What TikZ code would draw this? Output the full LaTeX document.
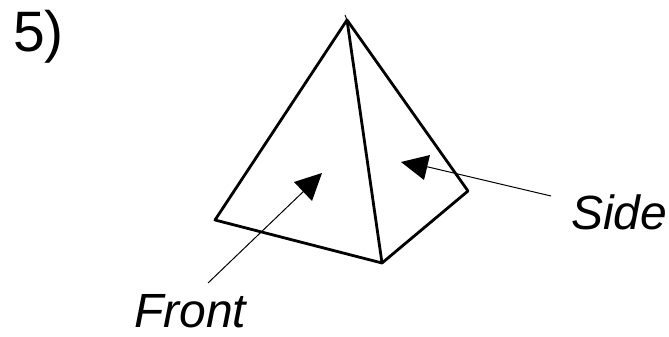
\documentclass[tikz,border=0pt]{standalone}
\usepackage{fontspec}
\setmainfont{Liberation Sans}
\begin{document}
\begin{tikzpicture}[x=1pt,y=-1pt,
  edge/.style={draw=black,line width=2.8pt,line join=round},
  leader/.style={draw=black,line width=1pt},
  head/.style={fill=black,draw=none},
  lab/.style={font=\fontsize{48}{50}\selectfont\itshape,inner sep=0pt}]
\useasboundingbox (0,0) rectangle (669,337);
\coordinate (A) at (347,20);
\coordinate (B) at (215,220);
\coordinate (C) at (382,263);
\coordinate (D) at (468,191);
\draw[edge] (A) -- (B) -- (C) -- (D) -- cycle;
\draw[edge] (A) -- (C);
\draw[leader] (345,15) -- (A);
\node[font=\fontsize{57}{60}\selectfont,inner sep=0pt,anchor=west] (n) at (13,37) {5)};
\node[lab,anchor=west] (side) at (571,212) {Side};
\node[lab,anchor=west] (front) at (134,311) {Front};
\coordinate (s) at (551,196);
\coordinate (st) at (424,166);
\coordinate (f) at (208,283);
\coordinate (ft) at (305,190);
\draw[leader] (s) -- (st);
\draw[leader] (f) -- (ft);
\fill[head] (401,162) -- (430,155) -- (424,180) -- cycle;
\fill[head] (322,173) -- (294,182) -- (312,201) -- cycle;
\end{tikzpicture}
\end{document}
